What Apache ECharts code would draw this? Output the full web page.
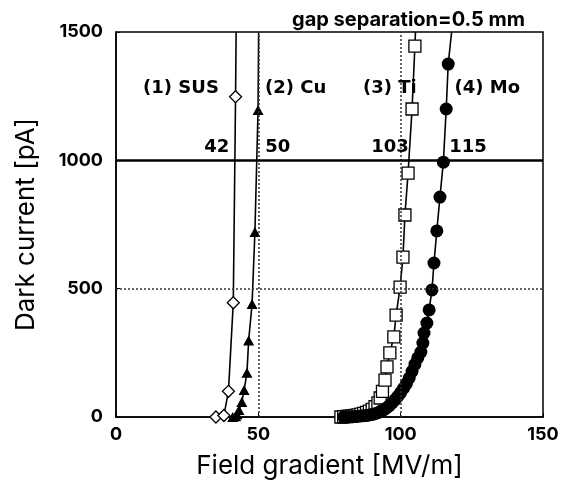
<!DOCTYPE html>
<html>
<head>
<meta charset="utf-8">
<script src="https://cdn.jsdelivr.net/npm/echarts@6/dist/echarts.min.js"></script>
<style>
  html, body { margin: 0; padding: 0; background: #fff; }
  #chart { width: 574px; height: 494px; }
</style>
</head>
<body>
<div id="chart"></div>
<script>
// measured points [field gradient MV/m, dark current pA]
const susData = [[35.1, 0], [37.9, 6], [39.5, 100], [41.2, 445], [42.0, 1248]];
const susTop = [42.2, 1500];
const cuData = [[41, 0], [42, 3], [42.5, 10], [43.2, 27], [44.2, 58], [45, 105], [46, 172], [46.6, 298], [47.8, 440], [48.8, 721], [49.9, 1196]];
const cuTop = [50.1, 1500];
const tiData = [[79, 0], [80, 1], [81, 2], [82, 3], [83, 4], [84, 6], [85, 8], [86, 11], [87, 14], [88, 18], [89, 23], [90, 30], [91, 40], [92, 55], [92.8, 74], [93.6, 100], [94.5, 144], [95.2, 195], [96.2, 250], [97.6, 312], [98.4, 397], [99.8, 506], [100.8, 623], [101.5, 787], [102.6, 950], [104, 1200], [105, 1445]];
const tiTop = [105.2, 1500];
const moData = [[80, 0], [81, 0], [82, 1], [83, 1], [84, 2], [85, 3], [86, 4], [87, 5], [88, 6], [89, 8], [90, 10], [91, 13], [92, 17], [93, 22], [94, 28], [95, 35], [96, 44], [97, 55], [98, 67], [99, 80], [100, 95], [101, 112], [102, 130], [103, 152], [104, 178], [105, 205], [106, 230], [107.1, 253], [107.8, 288], [108.2, 327], [109.2, 366], [110, 417], [111, 495], [111.7, 600], [112.7, 725], [113.8, 857], [115, 993], [116, 1200], [116.7, 1375]];
const moTop = [117.9, 1500];

// text placed in data coordinates
const annoText = ["(1) SUS", "(2) Cu", "(3) Ti", "(4) Mo", "42", "50", "103", "115"];
const annoX = [23.0, 63.3, 96.4, 130.6, 35.6, 57.0, 96.4, 123.8];
const annoY = [1278, 1278, 1278, 1278, 1048, 1048, 1048, 1048];

const xTicks = [0, 50, 100, 150];
const yTicks = [0, 500, 1000, 1500];

const fontFam = "Inter, Liberation Sans, Arial, sans-serif";
const annoFont = "DejaVu Sans, Inter, sans-serif";

function withTop(data, top) {
  return data.concat([{ value: top, symbol: "none" }]);
}

const chart = echarts.init(document.getElementById("chart"));
const option = {
  animation: false,
  title: {
    text: "gap separation=0.5 mm",
    left: 287,
    top: 5,
    textStyle: { fontFamily: fontFam, fontSize: 20, fontWeight: "bold", color: "#000" },
  },
  grid: {
    left: 116, right: 31, top: 32, bottom: 77,
    show: true, borderColor: "#000", borderWidth: 1.5,
    outerBoundsMode: "none",
  },
  xAxis: {
    type: "value",
    min: xTicks[0], max: xTicks[xTicks.length - 1], interval: 50,
    name: "Field gradient [MV/m]",
    nameLocation: "middle",
    nameGap: 36,
    nameTextStyle: { fontFamily: fontFam, fontSize: 26, color: "#000" },
    axisLine: { show: true, lineStyle: { color: "#000", width: 1.5 } },
    axisTick: { show: true, inside: true, length: 4, lineStyle: { color: "#000" } },
    axisLabel: { fontFamily: fontFam, fontSize: 18, fontWeight: "bold", color: "#000", margin: 9 },
    splitLine: { show: false },
  },
  yAxis: {
    type: "value",
    min: yTicks[0], max: yTicks[yTicks.length - 1], interval: 500,
    name: "Dark current [pA]",
    nameLocation: "middle",
    nameGap: 77,
    nameTextStyle: { fontFamily: fontFam, fontSize: 26, color: "#000" },
    axisLine: { show: true, lineStyle: { color: "#000", width: 1.5 } },
    axisTick: { show: true, inside: true, length: 4, lineStyle: { color: "#000" } },
    axisLabel: {
      fontFamily: fontFam, fontSize: 18, fontWeight: "bold", color: "#000", margin: 13,
      formatter: (v) => String(v),
    },
    splitLine: { show: false },
  },
  series: [
    {
      name: "SUS",
      type: "line",
      data: withTop(susData, susTop),
      symbol: "diamond",
      symbolSize: 12,
      itemStyle: { color: "#fff", borderColor: "#000", borderWidth: 1.3 },
      lineStyle: { color: "#000", width: 1.6 },
      z: 3,
      markLine: {
        silent: true,
        symbol: "none",
        label: { show: false },
        lineStyle: { color: "#333", type: [2, 2], width: 1.5 },
        data: [
          { xAxis: 50 },
          { xAxis: 100 },
          { yAxis: 500 },
          { yAxis: 1000, lineStyle: { color: "#000", type: "solid", width: 2.5 } },
        ],
      },
    },
    {
      name: "Cu",
      type: "line",
      data: withTop(cuData, cuTop),
      symbol: "triangle",
      symbolSize: [11, 10],
      itemStyle: { color: "#000" },
      lineStyle: { color: "#000", width: 1.6 },
      z: 3,
    },
    {
      name: "Ti",
      type: "line",
      data: withTop(tiData, tiTop),
      symbol: "rect",
      symbolSize: 12,
      itemStyle: { color: "#fff", borderColor: "#000", borderWidth: 1.3 },
      lineStyle: { color: "#000", width: 1.6 },
      z: 3,
    },
    {
      name: "Mo",
      type: "line",
      data: withTop(moData, moTop),
      symbol: "circle",
      symbolSize: 13,
      itemStyle: { color: "#000" },
      lineStyle: { color: "#000", width: 1.6 },
      z: 4,
    },
    {
      name: "labels",
      type: "scatter",
      symbolSize: 1,
      silent: true,
      itemStyle: { color: "#fff", opacity: 0 },
      data: annoText.map((t, i) => ({ name: t, value: [annoX[i], annoY[i]] })),
      label: {
        show: true,
        position: [0, 0],
        align: "center",
        verticalAlign: "middle",
        formatter: (p) => p.name,
        fontFamily: annoFont,
        fontSize: 18,
        fontWeight: "bold",
        color: "#000",
        opacity: 1,
      },
      z: 5,
    },
  ],
};
chart.setOption(option);
</script>
</body>
</html>
